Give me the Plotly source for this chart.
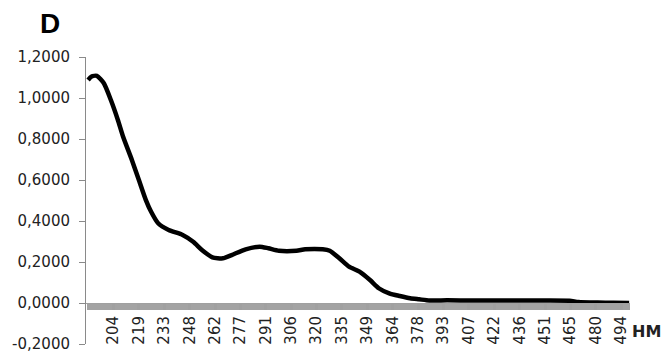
import plotly.graph_objects as go

# Wavelength (nm) and absorbance
wavelength = [190, 192, 195, 199, 203, 207, 210, 215, 219, 223, 226, 230, 236, 244,
              250, 255, 261, 267, 272, 280, 288, 293, 299, 309, 314, 324, 328, 333.5,
              339, 345, 351, 356, 362, 368, 374, 379, 385, 395, 410, 430, 450, 465,
              470, 481, 490, 499]
absorbance = [1.088, 1.105, 1.108, 1.072, 0.990, 0.893, 0.811, 0.698, 0.600, 0.502,
              0.445, 0.389, 0.356, 0.332, 0.299, 0.259, 0.223, 0.218, 0.234, 0.262,
              0.275, 0.267, 0.255, 0.255, 0.262, 0.262, 0.255, 0.218, 0.177, 0.153,
              0.112, 0.072, 0.047, 0.034, 0.023, 0.018, 0.012, 0.013, 0.012, 0.012,
              0.012, 0.011, 0.005, 0.002, 0.001, 0.000]

x_tick_vals = [204.5, 219, 233.5, 248, 262.5, 277, 291.5, 306, 320.5, 335, 349.5,
               364, 378.5, 393, 407.5, 422, 436.5, 451, 465.5, 480, 494.5]
x_tick_text = ["204", "219", "233", "248", "262", "277", "291", "306", "320", "335",
               "349", "364", "378", "393", "407", "422", "436", "451", "465", "480", "494"]
y_tick_vals = [-0.2, 0.0, 0.2, 0.4, 0.6, 0.8, 1.0, 1.2]
y_tick_text = ["-0,2000", "0,0000", "0,2000", "0,4000", "0,6000", "0,8000", "1,0000", "1,2000"]

fig = go.Figure()
fig.add_trace(go.Scatter(
    x=wavelength, y=absorbance, mode="lines",
    line=dict(color="black", width=4.5, shape="spline", smoothing=0.6),
    hoverinfo="skip", showlegend=False,
))

fig.update_layout(
    width=663, height=354,
    margin=dict(l=86, r=33, t=57, b=10),
    paper_bgcolor="white", plot_bgcolor="white",
    font=dict(family="DejaVu Sans", color="#222222"),
    title=dict(text="<b>D</b>", font=dict(family="Liberation Sans", size=28, color="black"),
               xref="container", yref="container", x=50 / 663, y=1 - 23 / 354,
               xanchor="center", yanchor="middle"),
    showlegend=False,
)

fig.update_xaxes(
    range=[188.8, 499.5], anchor="free", position=1 / 7,
    showgrid=False, zeroline=False,
    showline=True, linecolor="#a0a0a0", linewidth=1,
    tickmode="array", tickvals=x_tick_vals, ticktext=x_tick_text,
    tickangle=-90, ticks="outside", ticklen=6, tickcolor="#a0a0a0", tickwidth=3,
    tickfont=dict(family="DejaVu Sans", size=15, color="#222222"),
    minor=dict(ticks="outside", tickmode="linear", tick0=190, dtick=1.45,
               ticklen=6, tickwidth=3, tickcolor="#a3a3a3"),
    automargin=False,
)
fig.update_yaxes(
    range=[-0.2, 1.2], showgrid=False, zeroline=False,
    showline=True, linecolor="#8a8a8a", linewidth=1,
    tickmode="array", tickvals=y_tick_vals, ticktext=y_tick_text,
    ticks="outside", ticklen=6, tickcolor="#8a8a8a", tickwidth=1,
    tickfont=dict(family="DejaVu Sans", size=15, color="#222222"),
    ticklabelstandoff=6,
    automargin=False,
)

fig.add_annotation(
    text="<b>НМ</b>", xref="paper", yref="paper",
    x=(646 - 86) / 544, y=(344 - 331) / 287,
    showarrow=False, xanchor="center", yanchor="middle",
    font=dict(family="DejaVu Sans", size=16, color="#222222"),
)

fig.write_html("out.html")
